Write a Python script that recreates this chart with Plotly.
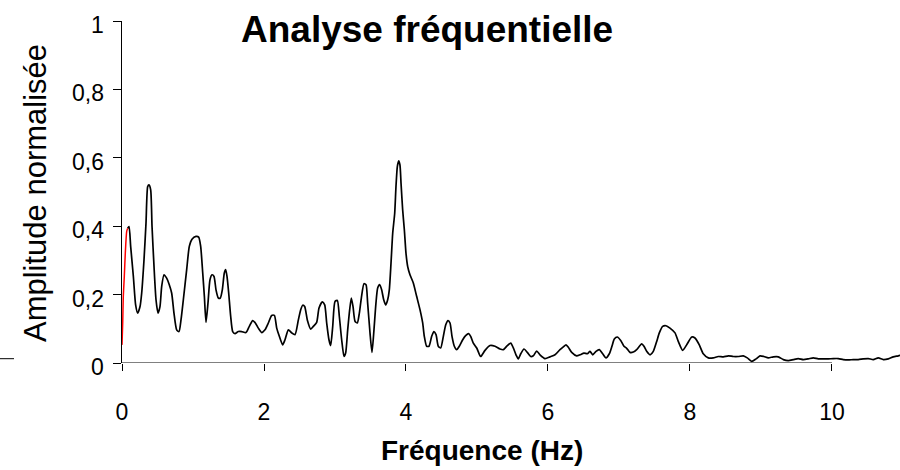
import plotly.graph_objects as go

# Red initial segment (frequency in Hz, normalised amplitude)
red_x = [0.0, 0.0099, 0.0183, 0.0324, 0.0465, 0.0662, 0.0803]
red_y = [0.053, 0.117, 0.195, 0.253, 0.321, 0.385, 0.394]

# Black spectrum
freq = [0.0803, 0.099, 0.122, 0.16, 0.192, 0.221, 0.254, 0.277, 0.31, 0.338, 0.362, 0.38, 0.404, 0.423,
        0.451, 0.479, 0.507, 0.535, 0.559, 0.592, 0.629, 0.666, 0.70, 0.732, 0.77, 0.803, 0.831, 0.864,
        0.911, 0.948, 0.986, 1.042, 1.08, 1.108, 1.137, 1.16, 1.183, 1.211, 1.239, 1.268, 1.296, 1.324,
        1.357, 1.385, 1.413, 1.441, 1.46, 1.479, 1.503, 1.531, 1.559, 1.592, 1.638, 1.686, 1.746, 1.793,
        1.841, 1.878, 1.92, 1.968, 2.014, 2.061, 2.108, 2.146, 2.179, 2.216, 2.263, 2.296, 2.343, 2.39,
        2.437, 2.484, 2.517, 2.545, 2.573, 2.61, 2.658, 2.695, 2.742, 2.775, 2.822, 2.855, 2.883, 2.915,
        2.939, 2.968, 3.0, 3.033, 3.061, 3.094, 3.127, 3.15, 3.179, 3.207, 3.23, 3.254, 3.282, 3.314,
        3.343, 3.371, 3.408, 3.437, 3.46, 3.493, 3.521, 3.549, 3.577, 3.601, 3.629, 3.657, 3.686, 3.714,
        3.742, 3.765, 3.789, 3.813, 3.841, 3.859, 3.878, 3.897, 3.915, 3.93, 3.953, 3.977, 4.0, 4.024,
        4.056, 4.103, 4.15, 4.197, 4.235, 4.258, 4.291, 4.324, 4.362, 4.394, 4.423, 4.455, 4.489, 4.526,
        4.56, 4.592, 4.62, 4.648, 4.681, 4.714, 4.751, 4.799, 4.84, 4.883, 4.911, 4.948, 4.996, 5.052,
        5.113, 5.183, 5.254, 5.324, 5.371, 5.427, 5.475, 5.512, 5.549, 5.582, 5.616, 5.662, 5.709, 5.756,
        5.793, 5.841, 5.887, 5.958, 6.028, 6.099, 6.169, 6.216, 6.254, 6.286, 6.334, 6.404, 6.451, 6.507,
        6.554, 6.592, 6.63, 6.676, 6.723, 6.771, 6.817, 6.864, 6.901, 6.934, 6.976, 7.024, 7.07, 7.108,
        7.155, 7.202, 7.249, 7.32, 7.352, 7.39, 7.437, 7.483, 7.531, 7.568, 7.615, 7.662, 7.718, 7.789,
        7.835, 7.897, 7.953, 8.024, 8.07, 8.131, 8.187, 8.258, 8.328, 8.399, 8.47, 8.54, 8.61, 8.68,
        8.751, 8.807, 8.869, 8.93, 8.986, 9.042, 9.103, 9.174, 9.244, 9.315, 9.385, 9.455, 9.525, 9.596,
        9.666, 9.737, 9.807, 9.877, 9.948, 10.019, 10.089, 10.159, 10.23, 10.3, 10.37, 10.441, 10.511,
        10.582, 10.652, 10.723, 10.793, 10.863, 10.934, 10.99]
amp = [0.394, 0.399, 0.341, 0.253, 0.170, 0.146, 0.165, 0.204, 0.302, 0.409, 0.516, 0.521, 0.506, 0.399,
       0.282, 0.185, 0.146, 0.165, 0.224, 0.258, 0.248, 0.229, 0.204, 0.146, 0.097, 0.092, 0.126, 0.185,
       0.273, 0.341, 0.362, 0.370, 0.368, 0.341, 0.263, 0.195, 0.119, 0.175, 0.243, 0.258, 0.253, 0.214,
       0.190, 0.190, 0.214, 0.263, 0.273, 0.253, 0.204, 0.136, 0.092, 0.086, 0.092, 0.092, 0.089, 0.107,
       0.124, 0.117, 0.102, 0.089, 0.097, 0.117, 0.139, 0.139, 0.102, 0.078, 0.053, 0.068, 0.097, 0.088,
       0.083, 0.126, 0.156, 0.169, 0.165, 0.126, 0.099, 0.107, 0.119, 0.161, 0.179, 0.170, 0.117, 0.068,
       0.051, 0.107, 0.180, 0.183, 0.136, 0.068, 0.019, 0.029, 0.097, 0.156, 0.190, 0.165, 0.122, 0.117,
       0.146, 0.190, 0.232, 0.229, 0.175, 0.088, 0.031, 0.097, 0.175, 0.219, 0.229, 0.214, 0.185, 0.170,
       0.185, 0.214, 0.292, 0.380, 0.438, 0.516, 0.574, 0.591, 0.579, 0.526, 0.448, 0.389, 0.321, 0.282,
       0.258, 0.234, 0.195, 0.156, 0.117, 0.078, 0.049, 0.049, 0.078, 0.092, 0.083, 0.049, 0.044, 0.078,
       0.112, 0.124, 0.117, 0.078, 0.049, 0.039, 0.049, 0.068, 0.080, 0.086, 0.078, 0.058, 0.044, 0.019,
       0.037, 0.051, 0.049, 0.041, 0.039, 0.051, 0.058, 0.044, 0.024, 0.012, 0.027, 0.041, 0.031, 0.019,
       0.021, 0.035, 0.024, 0.013, 0.018, 0.024, 0.039, 0.047, 0.053, 0.046, 0.031, 0.021, 0.024, 0.029,
       0.027, 0.034, 0.024, 0.034, 0.039, 0.027, 0.015, 0.027, 0.049, 0.070, 0.076, 0.066, 0.049, 0.043,
       0.031, 0.032, 0.039, 0.056, 0.049, 0.034, 0.024, 0.034, 0.063, 0.088, 0.107, 0.109, 0.102, 0.088,
       0.063, 0.037, 0.053, 0.076, 0.073, 0.053, 0.027, 0.015, 0.015, 0.019, 0.018, 0.021, 0.019, 0.019,
       0.021, 0.015, 0.005, 0.012, 0.021, 0.019, 0.015, 0.018, 0.018, 0.010, 0.007, 0.010, 0.013, 0.010,
       0.012, 0.015, 0.012, 0.012, 0.012, 0.013, 0.013, 0.010, 0.009, 0.010, 0.010, 0.012, 0.013,
       0.010, 0.015, 0.010, 0.012, 0.018, 0.021, 0.024]

y_tickvals = [0, 0.2, 0.4, 0.6, 0.8, 1]
y_ticktext = ["0", "0,2", "0,4", "0,6", "0,8", "1"]
x_tickvals = [0, 2, 4, 6, 8, 10]
x_ticktext = ["0", "2", "4", "6", "8", "10"]

FONT = "Liberation Sans, Arial, sans-serif"

fig = go.Figure()
fig.add_trace(go.Scatter(x=freq, y=amp, mode="lines",
                         line=dict(color="black", width=1.7, shape="spline", smoothing=0.6),
                         hoverinfo="skip", showlegend=False))
fig.add_trace(go.Scatter(x=red_x, y=red_y, mode="lines",
                         line=dict(color="#ff0000", width=1.5, shape="spline", smoothing=0.6),
                         hoverinfo="skip", showlegend=False))

# x axis line drawn only from 0 to 10
fig.add_shape(type="line", xref="x", yref="y", x0=0, x1=10, y0=0, y1=0,
              line=dict(color="black", width=1))
# small stray line at far left
fig.add_shape(type="line", xref="paper", yref="y", x0=-0.1568, x1=-0.1388, y0=0.0126, y1=0.0126,
              line=dict(color="black", width=1))

# y tick labels (sit slightly below their tick marks in the reference)
for v, t in zip(y_tickvals, y_ticktext):
    fig.add_annotation(text=t, xref="paper", yref="y", x=0, y=v, xanchor="right", yanchor="middle",
                       xshift=-16, yshift=-4, showarrow=False,
                       font=dict(family=FONT, size=23, color="black"))

# titles as annotations (positions in paper units of the 778x342 plot area)
fig.add_annotation(text="<b>Analyse fréquentielle</b>", xref="paper", yref="paper",
                   x=0.392, y=0.974, xanchor="center", yanchor="middle", showarrow=False,
                   font=dict(family=FONT, size=37, color="black"))
fig.add_annotation(text="<b>Fréquence (Hz)</b>", xref="paper", yref="paper",
                   x=0.4627, y=-0.257, xanchor="center", yanchor="middle", showarrow=False,
                   font=dict(family=FONT, size=28, color="black"))
fig.add_annotation(text="Amplitude normalisée", xref="paper", yref="paper",
                   x=-0.1118, y=0.497, xanchor="center", yanchor="middle", showarrow=False,
                   textangle=-90, font=dict(family=FONT, size=31, color="black"))

fig.update_layout(
    width=900, height=470,
    margin=dict(l=122, r=0, t=21, b=107),
    paper_bgcolor="white", plot_bgcolor="white",
    font=dict(family=FONT, color="black", size=23),
    xaxis=dict(range=[0, 10.958], showline=False, showgrid=False, zeroline=False,
               tickmode="array", tickvals=x_tickvals, ticktext=x_ticktext,
               ticks="outside", ticklen=7, tickwidth=1, tickcolor="black",
               tickfont=dict(size=23), ticklabelstandoff=21, fixedrange=True),
    yaxis=dict(range=[0, 1], showline=True, linecolor="black", linewidth=1,
               showgrid=False, zeroline=False,
               tickmode="array", tickvals=y_tickvals, showticklabels=False,
               ticks="outside", ticklen=8, tickwidth=1, tickcolor="black",
               fixedrange=True),
)

fig.write_html("out.html", config={"displayModeBar": False})
